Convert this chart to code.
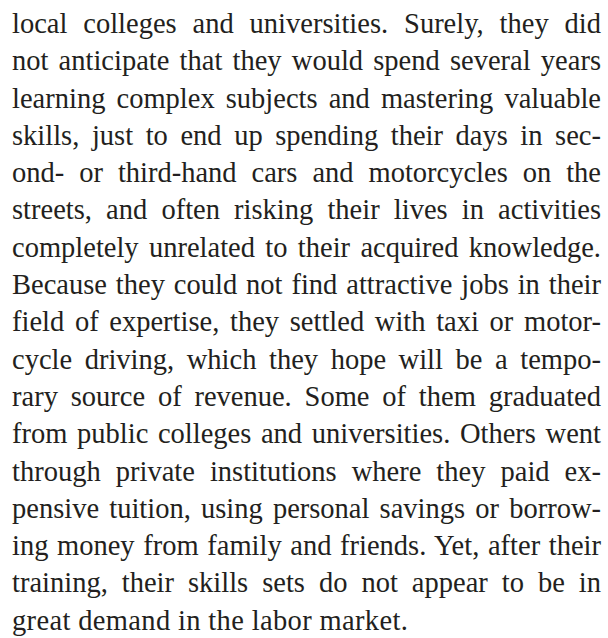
<!DOCTYPE html>
<html>
<head>
<meta charset="utf-8">
<script src="https://cdn.jsdelivr.net/npm/chart.js@4"></script>
<style>
  html, body { margin: 0; padding: 0; background: #ffffff; }
  body { width: 608px; height: 638px; overflow: hidden; }
  #text {
    position: absolute;
    left: 12px;
    top: 5px;
    width: 589px;
    font-family: "Liberation Serif", "Times New Roman", serif;
    font-size: 28.5px;
    color: #231f20;
  }
  .ln {
    height: 37.3px;
    line-height: 37.3px;
    white-space: nowrap;
    text-align: justify;
    text-align-last: justify;
  }
  .ln.last { text-align: left; text-align-last: left; letter-spacing: 0.35px; }
</style>
</head>
<body>
<div id="text"></div>
<script>
const lines = [
  "local colleges and universities. Surely, they did",
  "not anticipate that they would spend several years",
  "learning complex subjects and mastering valuable",
  "skills, just to end up spending their days in sec-",
  "ond- or third-hand cars and motorcycles on the",
  "streets, and often risking their lives in activities",
  "completely unrelated to their acquired knowledge.",
  "Because they could not find attractive jobs in their",
  "field of expertise, they settled with taxi or motor-",
  "cycle driving, which they hope will be a tempo-",
  "rary source of revenue. Some of them graduated",
  "from public colleges and universities. Others went",
  "through private institutions where they paid ex-",
  "pensive tuition, using personal savings or borrow-",
  "ing money from family and friends. Yet, after their",
  "training, their skills sets do not appear to be in",
  "great demand in the labor market."
];
const box = document.getElementById('text');
lines.forEach((t, i) => {
  const d = document.createElement('div');
  d.className = 'ln' + (i === lines.length - 1 ? ' last' : '');
  d.textContent = t;
  box.appendChild(d);
});
</script>
</body>
</html>
